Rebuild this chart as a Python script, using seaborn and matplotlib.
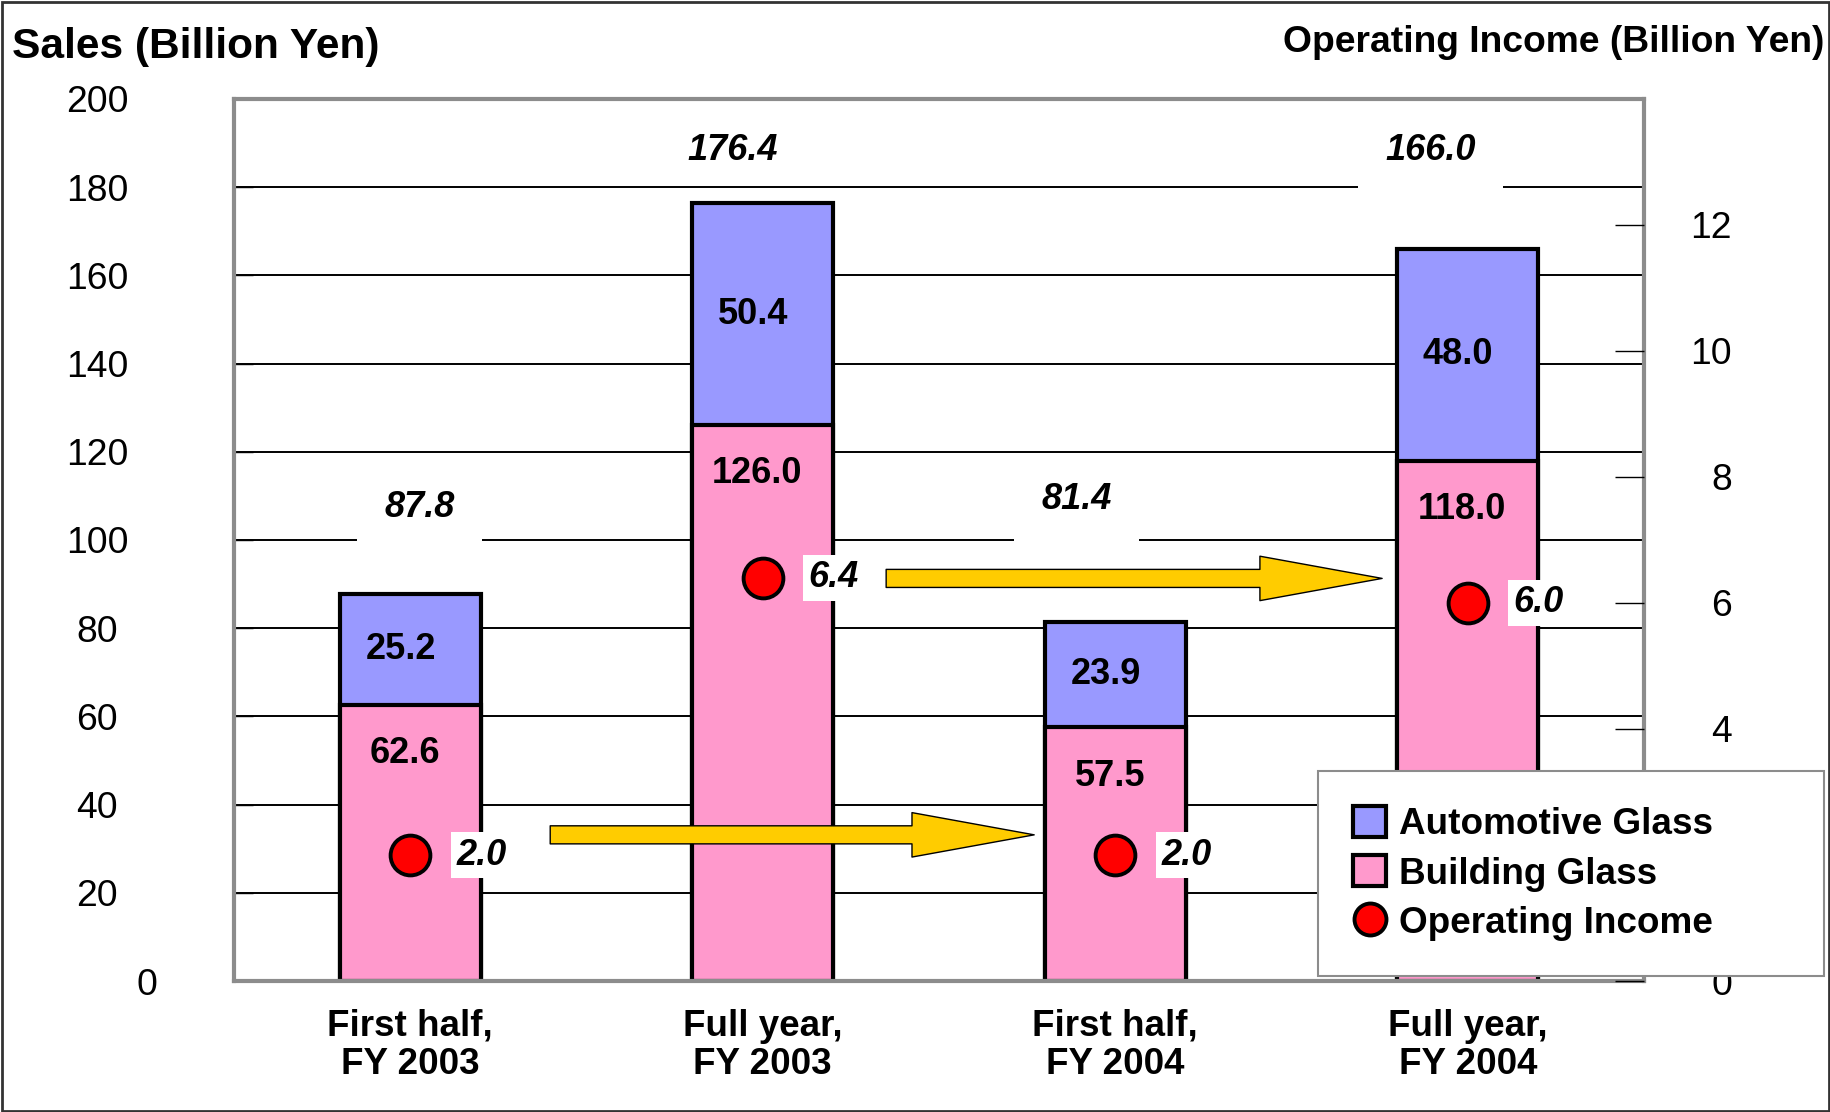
import numpy as np
import pandas as pd
import matplotlib
matplotlib.use("Agg")
import matplotlib.pyplot as plt
import matplotlib.transforms as mtransforms
from matplotlib.patches import Patch, Rectangle
from matplotlib.lines import Line2D
import seaborn as sns

# ---------------- data ----------------
categories = ["First half,\nFY 2003", "Full year,\nFY 2003",
              "First half,\nFY 2004", "Full year,\nFY 2004"]
building_glass = [62.6, 126.0, 57.5, 118.0]
automotive_glass = [25.2, 50.4, 23.9, 48.0]
total_sales = [87.8, 176.4, 81.4, 166.0]
operating_income = [2.0, 6.4, 2.0, 6.0]
left_ticks = [0, 20, 40, 60, 80, 100, 120, 140, 160, 180, 200]
right_ticks = [0, 2, 4, 6, 8, 10, 12]

# ---------------- style ----------------
sns.set_style("white")
plt.rcParams["font.family"] = ["Liberation Sans", "DejaVu Sans"]
plt.rcParams["text.color"] = "black"
plt.rcParams["axes.labelcolor"] = "black"
plt.rcParams["xtick.color"] = "black"
plt.rcParams["ytick.color"] = "black"

BLUE = "#9999FF"
PINK = "#FF99CC"
RED = "#FF0000"
YELLOW = "#FFCC00"
GRAY = "#8C8C8C"

df = pd.DataFrame({"category": categories,
                   "building": building_glass,
                   "automotive": automotive_glass,
                   "total": total_sales,
                   "income": operating_income})

fig = plt.figure(figsize=(18.31, 11.12), dpi=100)
ax = fig.add_axes([0.1278, 0.1178, 0.8979 - 0.1278, 0.911 - 0.1178])

# stacked bars: full height (automotive on top) then building glass
sns.barplot(data=df, x="category", y="total", order=categories, color=BLUE,
            saturation=1, width=0.4, edgecolor="black", linewidth=3, ax=ax,
            zorder=2)
sns.barplot(data=df, x="category", y="building", order=categories, color=PINK,
            saturation=1, width=0.4, edgecolor="black", linewidth=3, ax=ax,
            zorder=2)

ax.set_xlim(-0.5, 3.5)
ax.set_ylim(0, 200)
ax.set_yticks(left_ticks)
ax.set_xlabel("")
ax.set_ylabel("")
ax.set_axisbelow(True)
ax.yaxis.grid(True, color="black", linewidth=1.4)
ax.xaxis.grid(False)

for s in ax.spines.values():
    s.set_color(GRAY)
    s.set_linewidth(3)
    s.set_visible(True)

ax.tick_params(axis="y", direction="in", length=14, width=1, color="black",
               pad=98.6, labelsize=26.8, labelcolor="black")
for lab in ax.get_yticklabels():
    lab.set_ha("center")
    if lab.get_text() == "0":
        lab.set_transform(lab.get_transform() +
                          mtransforms.ScaledTranslation(0.5, 0, fig.dpi_scale_trans))
ax.set_xticks(range(4))
ax.set_xticklabels(categories, fontsize=26.5, fontweight="bold", linespacing=1.12,
                   color="black")
ax.tick_params(axis="x", which="major", length=0, pad=20)
ax.set_xticks([0.5, 1.5, 2.5], minor=True)
ax.tick_params(axis="x", which="minor", direction="in", length=14, width=1,
               color="black")

# segment labels
for i in range(4):
    ax.annotate(f"{building_glass[i]:.1f}", xy=(i, building_glass[i]),
                xytext=(-4, -35), textcoords="offset points", color="black",
                ha="center", va="center", fontsize=26, fontweight="bold", zorder=5)
    ax.annotate(f"{automotive_glass[i]:.1f}",
                xy=(i, building_glass[i] + automotive_glass[i] / 2),
                xytext=(-7, 0), textcoords="offset points", color="black",
                ha="center", va="center", fontsize=26, fontweight="bold", zorder=5)

# total labels (with white boxes)
total_offsets = [(6.5, 62), (-22, 38), (-28, 88), (-27, 71)]
total_pads = [0.75, 0.3, 0.75, 0.75]
for i in range(4):
    ax.annotate(f"{total_sales[i]:.1f}", xy=(i, total_sales[i]),
                xytext=total_offsets[i], textcoords="offset points", color="black",
                ha="center", va="center", fontsize=26, fontweight="bold",
                fontstyle="italic", zorder=5,
                bbox=dict(boxstyle=f"square,pad={total_pads[i]}", fc="white",
                          ec="none"))

# ---------------- secondary axis: operating income ----------------
ax2 = ax.twinx()
ax2.set_ylim(0, 14)
ax2.set_yticks(right_ticks)
for s in ax2.spines.values():
    s.set_visible(False)
ax2.tick_params(axis="y", direction="in", length=21, width=1, color="black",
                pad=63.4, labelsize=26.8, labelcolor="black")
for lab in ax2.get_yticklabels():
    lab.set_ha("right")

# arrows
arrow_style = "simple,head_length=8.8,head_width=3.2,tail_width=1.3"
ax2.annotate("", xy=(1.77, 2.32), xytext=(0.397, 2.32),
             arrowprops=dict(arrowstyle=arrow_style, mutation_scale=10,
                             fc=YELLOW, ec="black", lw=1, shrinkA=0, shrinkB=0),
             zorder=3)
ax2.annotate("", xy=(2.757, 6.39), xytext=(1.35, 6.39),
             arrowprops=dict(arrowstyle=arrow_style, mutation_scale=10,
                             fc=YELLOW, ec="black", lw=1, shrinkA=0, shrinkB=0),
             zorder=3)

sns.scatterplot(x=np.arange(4), y=df["income"], ax=ax2, color=RED, s=820,
                edgecolor="black", linewidth=2.8, zorder=4, legend=False)
ax2.set_ylabel("")
ax2.set_xlim(-0.5, 3.5)

for i in range(4):
    ax2.annotate(f"{operating_income[i]:.1f}", xy=(i, operating_income[i]),
                 xytext=(33, 0), textcoords="offset points", color="black",
                 ha="left", va="center", fontsize=26, fontweight="bold",
                 fontstyle="italic", zorder=5,
                 bbox=dict(boxstyle="square,pad=0.15", fc="white", ec="none"))

# ---------------- titles ----------------
fig.text(12 / 1831, 1 - 47 / 1112, "Sales (Billion Yen)", fontsize=30.6,
         fontweight="bold", ha="left", va="center", color="black")
fig.text(1824 / 1831, 1 - 43 / 1112, "Operating Income (Billion Yen)",
         fontsize=26.8, fontweight="bold", ha="right", va="center", color="black")

# ---------------- legend ----------------
handles = [Patch(facecolor=BLUE, edgecolor="black", linewidth=3),
           Patch(facecolor=PINK, edgecolor="black", linewidth=3),
           Line2D([], [], marker="o", linestyle="none", markersize=23,
                  markerfacecolor=RED, markeredgecolor="black",
                  markeredgewidth=2.8)]
leg = fig.legend(handles, ["Automotive Glass", "Building Glass", "Operating Income"],
                 loc="upper left",
                 bbox_to_anchor=(1318 / 1831, 1 - 771 / 1112, 506 / 1831, 0.0),
                 mode="expand", borderaxespad=0, fancybox=False, frameon=True,
                 edgecolor=GRAY, framealpha=1, borderpad=0.95, labelspacing=0.36,
                 handlelength=0.9, handleheight=0.9, handletextpad=0.33,
                 prop=dict(size=26.6, weight="bold"))
leg.get_frame().set_linewidth(1.5)
leg.set_zorder(10)
for t in leg.get_texts():
    t.set_color("black")

# outer border
fig.patches.append(Rectangle((0.001, 0.001), 0.998, 0.997, transform=fig.transFigure,
                             fill=False, edgecolor="#333333", linewidth=2))

fig.savefig("out.png", dpi=100)
